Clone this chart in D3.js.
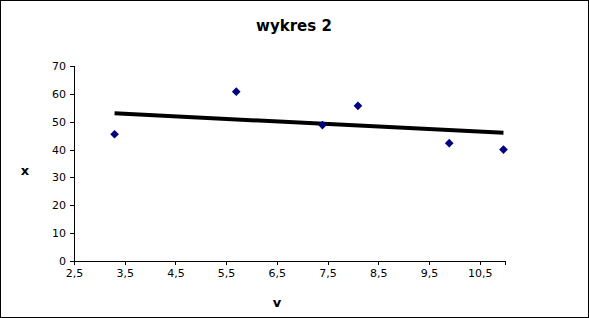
<!DOCTYPE html>
<html>
<head>
<meta charset="utf-8">
<script src="https://cdn.jsdelivr.net/npm/d3@7"></script>
<style>
	body { margin: 0; background: #fff; }
	text { font-family: "DejaVu Sans", sans-serif; }
</style>
</head>
<body>
<div id="chart"></div>
<script>
// measured points (v, x)
const vValues = [3.3, 5.7, 7.4, 8.1, 9.9, 10.97];
const xValues = [45.5, 60.8, 48.8, 55.7, 42.3, 40.0];
// trend line ends
const trendV = [3.3, 10.97];
const trendX = [53.0, 46.0];
const xTicks = [2.5, 3.5, 4.5, 5.5, 6.5, 7.5, 8.5, 9.5, 10.5];
const yTicks = [0, 10, 20, 30, 40, 50, 60, 70];

const width = 589, height = 318;
const margin = {top: 66, right: 84, bottom: 57, left: 74};

const svg = d3.select("#chart").append("svg")
	.attr("width", width)
	.attr("height", height);

// outer frame
svg.append("rect")
	.attr("x", 0.5).attr("y", 0.5)
	.attr("width", width - 1).attr("height", height - 1)
	.attr("fill", "#fff")
	.attr("stroke", "#000");

let xScale = d3.scaleLinear()
	.domain([2.5, 11])
	.range([margin.left, width - margin.right]);

let yScale = d3.scaleLinear()
	.domain([0, 70])
	.range([height - margin.bottom, margin.top]);

let xAxis = svg.append("g")
	.attr("transform", "translate(0," + (height - margin.bottom) + ")")
	.call(d3.axisBottom(xScale).tickValues(xTicks).tickSizeOuter(0).tickSize(4).tickPadding(4)
		.tickFormat(function(d){ return String(d).replace(".", ","); }));

let yAxis = svg.append("g")
	.attr("transform", "translate(" + margin.left + ",0)")
	.call(d3.axisLeft(yScale).tickValues(yTicks).tickSizeOuter(0).tickSize(4).tickPadding(4));

[xAxis, yAxis].forEach(function(a) {
	a.selectAll("path, line").attr("stroke", "#000").attr("shape-rendering", "crispEdges");
	a.selectAll("text").attr("fill", "#000").style("font-size", "11px");
});

// trend line
let line = d3.line()
	.x(function(d){ return xScale(d[0]); })
	.y(function(d){ return yScale(d[1]); });

svg.append("path")
	.datum(trendV.map(function(v, i){ return [v, trendX[i]]; }))
	.attr("d", line)
	.attr("fill", "none")
	.attr("stroke", "#000")
	.attr("stroke-width", 4);

// markers
svg.selectAll(".pt")
	.data(vValues.map(function(v, i){ return [v, xValues[i]]; }))
	.enter().append("path")
	.attr("class", "pt")
	.attr("d", d3.symbol().type(d3.symbolDiamond2).size(48))
	.attr("transform", function(d){ return "translate(" + xScale(d[0]) + "," + yScale(d[1]) + ")"; })
	.attr("fill", "#000080");

// titles
svg.append("text")
	.attr("x", 294).attr("y", 31)
	.attr("text-anchor", "middle")
	.style("font-size", "15px").style("font-weight", "bold")
	.text("wykres 2");

svg.append("text")
	.attr("x", 277).attr("y", 307)
	.attr("text-anchor", "middle")
	.style("font-size", "13px").style("font-weight", "bold")
	.text("v");

svg.append("text")
	.attr("x", 25).attr("y", 175)
	.attr("text-anchor", "middle")
	.style("font-size", "13px").style("font-weight", "bold")
	.text("x");
</script>
</body>
</html>
